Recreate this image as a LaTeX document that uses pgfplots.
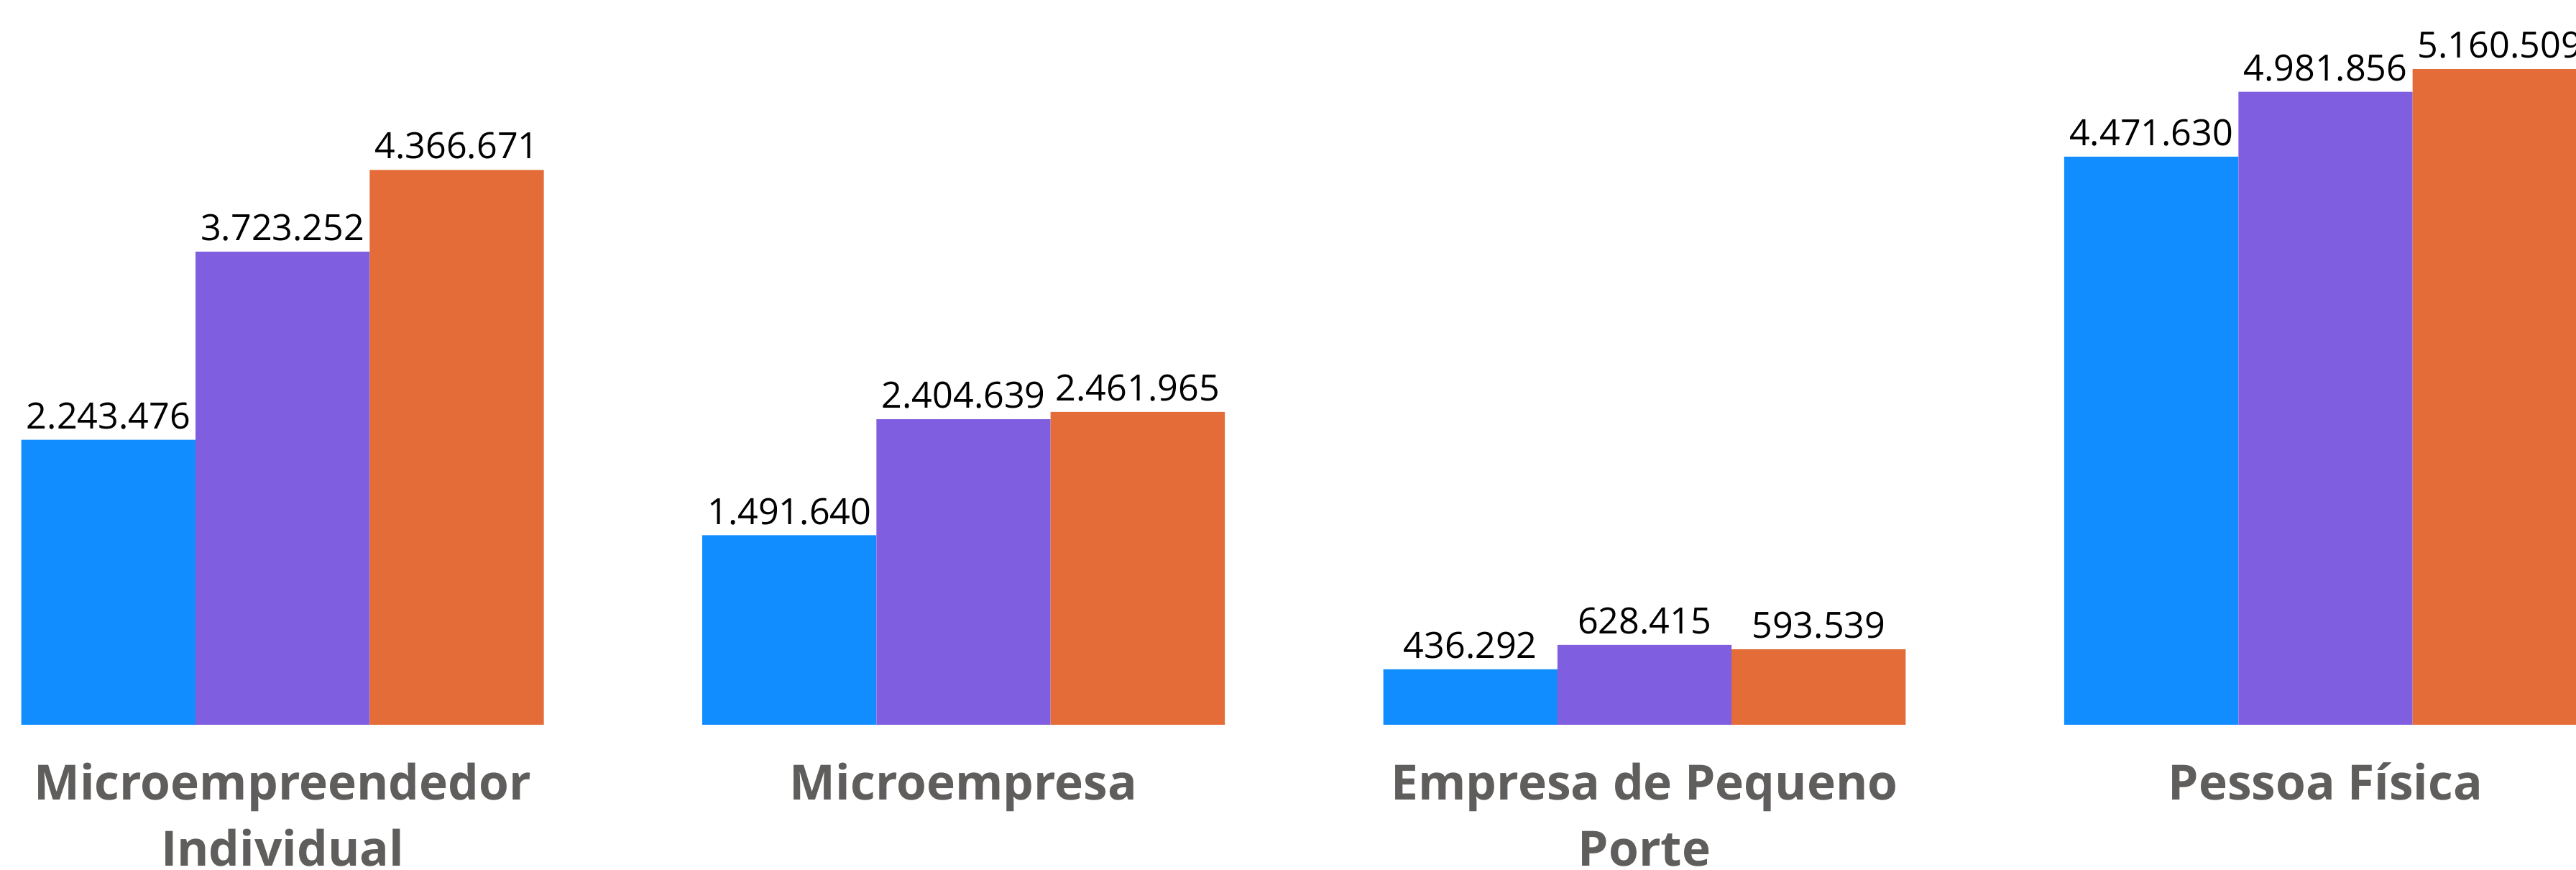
\documentclass[border=0pt]{standalone}
\usepackage{pgfplots}
\pgfplotsset{compat=1.18}
\usepackage{pgfplotstable}
\usepackage{fontspec}
\setmainfont{Open Sans}
\definecolor{cblue}{HTML}{118DFF}
\definecolor{cpurple}{HTML}{7F5FDF}
\definecolor{corange}{HTML}{E36C39}
\definecolor{cgray}{HTML}{605E5C}

\pgfplotstableread{
x y label
0 2243476 2.243.476
1 1491640 1.491.640
2 436292 436.292
3 4471630 4.471.630
}\tblA
\pgfplotstableread{
x y label
0 3723252 3.723.252
1 2404639 2.404.639
2 628415 628.415
3 4981856 4.981.856
}\tblB
\pgfplotstableread{
x y label
0 4366671 4.366.671
1 2461965 2.461.965
2 593539 593.539
3 5160509 5.160.509
}\tblC

\begin{document}
\begin{tikzpicture}
\begin{axis}[
  scale only axis,
  width=784pt, height=220.5pt,
  xmin=-0.415, xmax=3.368,
  ymin=0, ymax=5704000,
  axis line style={draw=none},
  major tick length=0pt,
  ytick=\empty,
  xtick={0,1,2,3},
  xticklabels={{Microempreendedor\\Individual},{Microempresa},{Empresa de Pequeno\\Porte},{Pessoa Física}},
  xticklabel style={align=center, font=\fontsize{14.8}{20.3}\selectfont\bfseries, text=cgray, yshift=-8pt},
  ybar=0pt, bar width=53pt,
  nodes near coords,
  point meta=explicit symbolic,
  every node near coord/.append style={font=\fontsize{11}{13}\selectfont, text=black, anchor=south, inner sep=3pt},
]
\addplot[fill=cblue, draw=none] table[x=x, y=y, meta=label] {\tblA};
\addplot[fill=cpurple, draw=none] table[x=x, y=y, meta=label] {\tblB};
\addplot[fill=corange, draw=none] table[x=x, y=y, meta=label] {\tblC};
\end{axis}
\pgfresetboundingbox
\path[use as bounding box] ([yshift=-44pt]current axis.south west) rectangle (current axis.north east);
\end{tikzpicture}
\end{document}
